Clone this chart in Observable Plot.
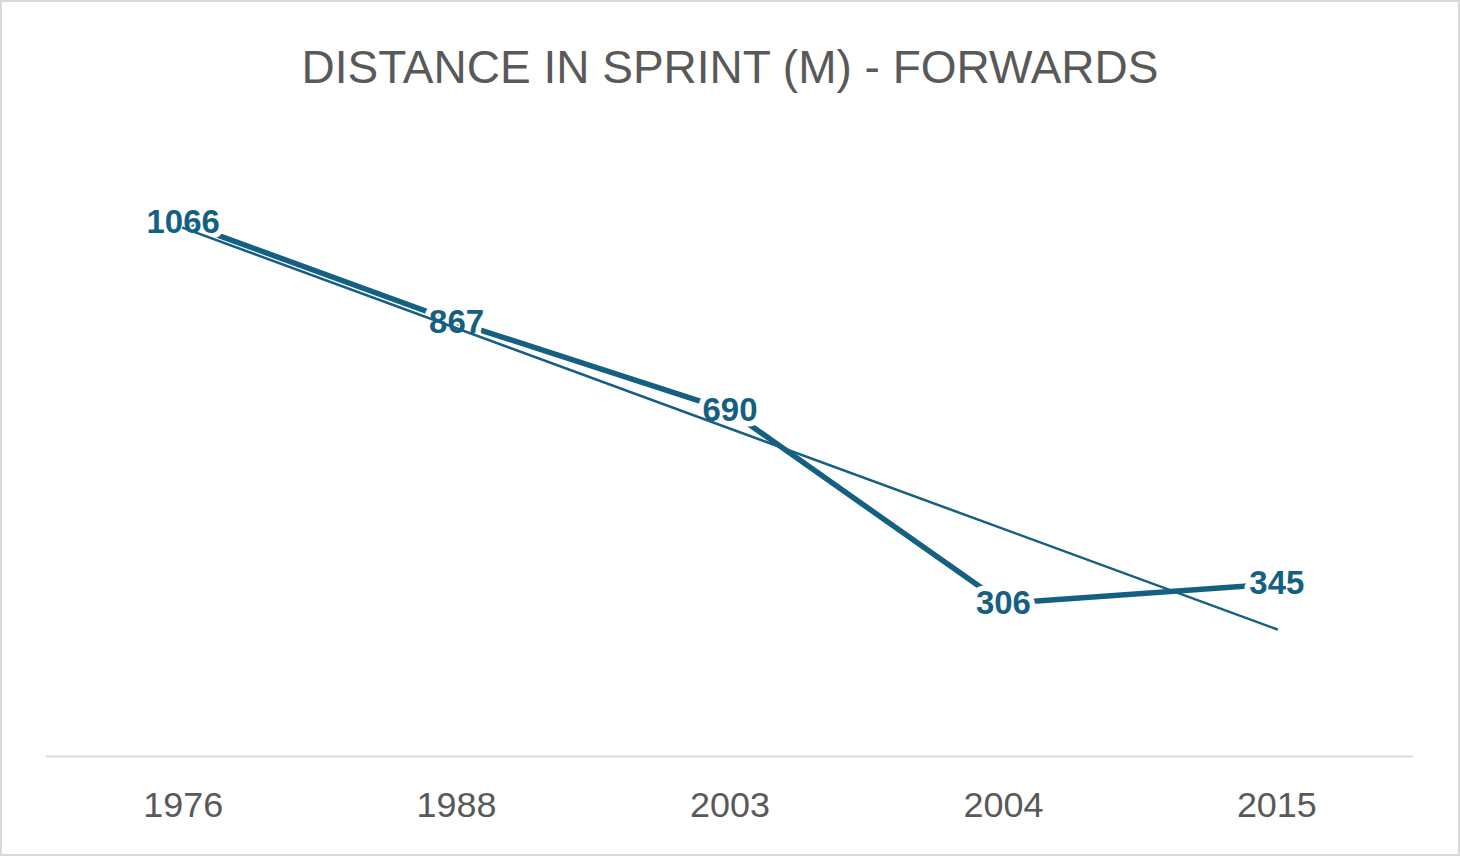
<!DOCTYPE html>
<html>
<head>
<meta charset="utf-8">
<script src="https://cdn.jsdelivr.net/npm/d3@7"></script>
<script src="https://cdn.jsdelivr.net/npm/@observablehq/plot@0.6"></script>
<style>
  html, body { margin: 0; padding: 0; background: #fff; }
  #frame { position: relative; width: 1460px; height: 856px; box-sizing: border-box; border: 2px solid #d9d9d9; background: #fff; overflow: hidden; }
  #title { position: absolute; left: 0; right: 0; top: 42px; text-align: center; font-family: "Liberation Sans", Arial, sans-serif; font-size: 46px; line-height: 46px; color: #595959; white-space: nowrap; }
  #chart { position: absolute; left: -2px; top: 118px; }
</style>
</head>
<body>
<div id="frame">
  <div id="title">DISTANCE IN SPRINT (M) - FORWARDS</div>
  <div id="chart"></div>
</div>
<script>
const years = ["1976", "1988", "2003", "2004", "2015"];
const distances = [1066, 867, 690, 306, 345];

const data = years.map((year, i) => ({ i, year, value: distances[i] }));
const color = "#156082";

const chart = Plot.plot({
  width: 1460,
  height: 738,
  marginTop: 35,
  marginBottom: 101,
  marginLeft: 46,
  marginRight: 45,
  style: { fontFamily: "Liberation Sans, Arial, sans-serif", background: "transparent", overflow: "visible" },
  x: { type: "linear", domain: [-0.5, years.length - 0.5] },
  y: { domain: [0, 1200], axis: null },
  marks: [
    Plot.ruleY([0], { stroke: "#d9d9d9", strokeWidth: 2 }),
    Plot.axisX(d3.range(years.length), {
      tickSize: 0, tickPadding: 35, fontSize: 36, fill: "#595959",
      tickFormat: (d) => years[d], label: null
    }),
    Plot.line(data, { x: "i", y: "value", stroke: color, strokeWidth: 5.5, strokeLinecap: "butt" }),
    Plot.text(data, {
      x: "i", y: "value", text: (d) => String(d.value),
      fill: color, fontWeight: "bold", fontSize: 33,
      stroke: "white", strokeWidth: 11, paintOrder: "stroke", textAnchor: "middle", lineAnchor: "middle"
    }),
    Plot.linearRegressionY(data, { x: "i", y: "value", stroke: color, strokeWidth: 2.5, ci: 0 })
  ]
});
document.getElementById("chart").appendChild(chart);
</script>
</body>
</html>
